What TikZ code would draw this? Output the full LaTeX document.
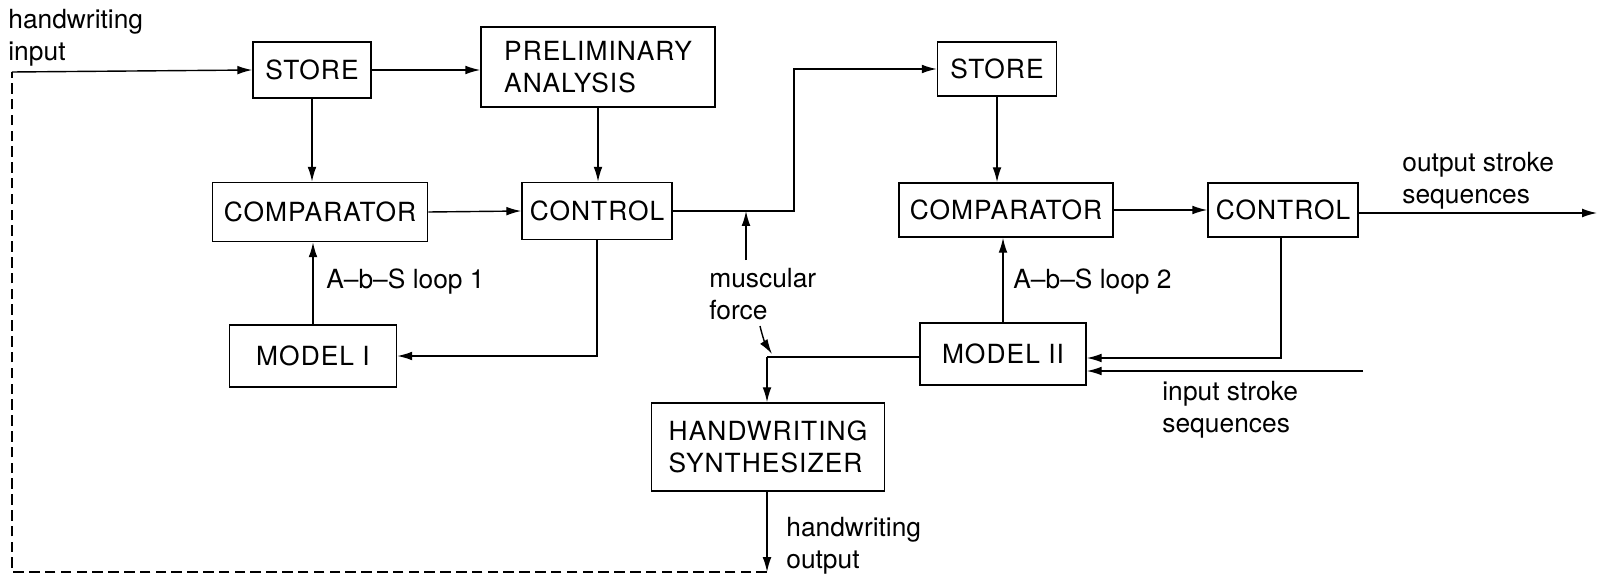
\documentclass[tikz,border=0pt]{standalone}
\usepackage{fontspec}
\setmainfont{TeX Gyre Heros}
\newfontfamily\boxfont[LetterSpace=4]{TeX Gyre Heros}
\usetikzlibrary{arrows.meta}

\begin{document}
\begin{tikzpicture}[x=0.02cm, y=-0.02cm,
    box/.style={draw, line width=0.9pt, inner sep=0pt, font=\fontsize{15}{18}\selectfont\boxfont,
                minimum width=3cm, minimum height=1.14cm},
    lbl/.style={inner sep=0pt, anchor=west, align=left, font=\fontsize{15}{18}\selectfont},
    arr/.style={-{Latex[length=8.5pt,width=5pt]}, line width=0.8pt},
    lnk/.style={line width=0.8pt}]
  \useasboundingbox (0,0) rectangle (1598,574);
  % first stage boxes
  \node[box, minimum width=2.36cm, minimum height=1.12cm] (store1) at (312,70) {STORE};
  \node[box, minimum width=4.68cm, minimum height=1.6cm, align=left] (prelim) at (598,67) {PRELIMINARY\\ANALYSIS};
  \node[box, minimum width=4.3cm, minimum height=1.18cm] (comp1) at (320,212) {COMPARATOR};
  \node[box] (ctrl1) at (597,211) {CONTROL};
  \node[box, minimum width=3.34cm, minimum height=1.24cm] (model1) at (313,356) {MODEL I};
  % second stage boxes
  \node[box, minimum width=2.38cm, minimum height=1.08cm] (store2) at (997,69) {STORE};
  \node[box, minimum width=4.28cm, minimum height=1.08cm] (comp2) at (1006,210) {COMPARATOR};
  \node[box, minimum height=1.08cm] (ctrl2) at (1283,210) {CONTROL};
  \node[box, minimum width=3.32cm, minimum height=1.24cm] (model2) at (1003,354) {MODEL II};
  \node[box, minimum width=4.66cm, minimum height=1.76cm, align=left] (synth) at (768,447) {HANDWRITING\\SYNTHESIZER};
  % labels
  \node[lbl] (hwin) at (8,38) {handwriting\\input};
  \node[lbl] (loop1) at (326,282) {A--b--S loop 1};
  \node[lbl] (loop2) at (1013,282) {A--b--S loop 2};
  \node[lbl] (musc) at (709,294) {muscular\\force};
  \node[lbl] (outseq) at (1402,181) {output stroke\\sequences};
  \node[lbl] (inseq) at (1162,410) {input stroke\\sequences};
  \node[lbl] (hwout) at (786,546) {handwriting\\output};
  % free ends and bends
  \coordinate (inp) at (12,72);
  \coordinate (bend) at (794,211);
  \coordinate (mf) at (746,260);
  \coordinate (fa) at (760,326);
  \coordinate (fb) at (772,354);
  \coordinate (jn) at (767,357);
  \coordinate (outp) at (1597,213);
  \coordinate (fbk) at (1281,358);
  \coordinate (isin) at (1363,371);
  \coordinate (tip) at (767,572);
  % first stage links
  \draw[arr] (inp) -- (store1.west);
  \draw[arr] (store1.east) -- (prelim.west |- store1.east);
  \draw[arr] (store1.south) -- (store1.south |- comp1.north);
  \draw[arr] (prelim.south) -- (prelim.south |- ctrl1.north);
  \draw[arr] (comp1.east) -- (ctrl1.west);
  \draw[arr] (model1.north) -- (model1.north |- comp1.south);
  \draw[arr] (ctrl1.south) |- (model1.east);
  \draw[arr] (ctrl1.east) -- (bend) |- (store2.west);
  \draw[arr] (mf) -- (mf |- ctrl1.east);
  % second stage links
  \draw[arr] (store2.south) -- (store2.south |- comp2.north);
  \draw[arr] (model2.north) -- (model2.north |- comp2.south);
  \draw[arr] (comp2.east) -- (ctrl2.west);
  \draw[arr] (ctrl2.east |- outp) -- (outp);
  \draw[arr] (ctrl2.south -| fbk) -- (fbk) -- (model2.east |- fbk);
  \draw[arr] (isin) -- (model2.east |- isin);
  % synthesizer
  \draw[lnk] (model2.west |- jn) -- (jn);
  \draw[arr] (fa) to[bend right=10] (fb);
  \draw[arr] (jn) -- (jn |- synth.north);
  \draw[arr] (synth.south -| tip) -- (tip);
  \draw[lnk, dash pattern=on 6pt off 3pt] (tip) -| (inp);
\end{tikzpicture}
\end{document}
